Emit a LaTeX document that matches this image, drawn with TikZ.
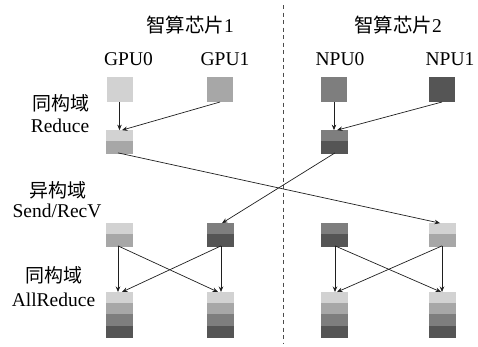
\documentclass[tikz,border=0pt]{standalone}
\usepackage{fontspec}
\setmainfont{Liberation Serif}
\newfontfamily\cjk{Noto Sans CJK SC}
\usetikzlibrary{arrows.meta,calc}
% four grey levels, one per device
\definecolor{shadeA}{HTML}{D2D2D2}
\definecolor{shadeB}{HTML}{A7A7A7}
\definecolor{shadeC}{HTML}{7E7E7E}
\definecolor{shadeD}{HTML}{555555}
\begin{document}
\begin{tikzpicture}[x=1pt,y=-1pt,
  sq/.style={minimum width=26pt,minimum height=25pt,inner sep=0pt,outer sep=0pt},
  cell/.style={minimum width=26pt,minimum height=11.25pt,inner sep=0pt,outer sep=0pt},
  lat/.style={font=\fontsize{19.5}{21}\selectfont,inner sep=0pt,anchor=base},
  zh/.style={font=\fontsize{19}{21}\selectfont\cjk,inner sep=0pt,anchor=base},
  link/.style={draw=black!88,line width=0.7pt,-{Stealth[length=5.5pt,width=4.5pt]}},
  sepline/.style={draw=black!70,line width=1pt,dash pattern=on 4pt off 3.5pt}]
\useasboundingbox (0,0) rectangle (478,346);

% chip separator
\coordinate (sepTop) at (283.5,5);
\coordinate (sepBot) at (283.5,343);
\draw[sepline] (sepTop) -- (sepBot);

% chip titles and device names
\node[lat] (chip1) at (190,32) {{\cjk 智算芯片}1};
\node[lat] (chip2) at (398,32) {{\cjk 智算芯片}2};
\node[lat] (lg0) at (128.5,65) {GPU0};
\node[lat] (lg1) at (225,65) {GPU1};
\node[lat] (ln0) at (340,65) {NPU0};
\node[lat] (ln1) at (450,65) {NPU1};

% stage labels
\node[zh]  (st1a) at (61,110) {同构域};
\node[lat] (st1b) at (60,132) {Reduce};
\node[zh]  (st2a) at (57.5,197) {异构域};
\node[lat] (st2b) at (57,217) {Send/RecV};
\node[zh]  (st3a) at (53.5,282) {同构域};
\node[lat] (st3b) at (53.5,306.5) {AllReduce};

% initial data on each device
\node[sq,fill=shadeA] (g0) at (119.5,89.5) {};
\node[sq,fill=shadeB] (g1) at (220,89.5) {};
\node[sq,fill=shadeC] (n0) at (334,89.5) {};
\node[sq,fill=shadeD] (n1) at (442,89.5) {};

% stacked blocks: fill and edge in the same grey so neighbours join cleanly
\tikzset{blk/.style={cell,fill=#1,draw=#1,line width=0.4pt}}

% after intra-chip reduce
\node[blk=shadeA] (rg1) at (119.5,135.75) {};
\node[blk=shadeB] (rg2) at (119.5,147.25) {};
\node[blk=shadeC] (rn1) at (334,135.75) {};
\node[blk=shadeD] (rn2) at (334,147.25) {};

% after cross-chip send/recv
\node[blk=shadeA] (sA1) at (119.5,228.75) {};
\node[blk=shadeB] (sA2) at (119.5,240.25) {};
\node[blk=shadeC] (sB1) at (220,228.75) {};
\node[blk=shadeD] (sB2) at (220,240.25) {};
\node[blk=shadeC] (sC1) at (334,228.75) {};
\node[blk=shadeD] (sC2) at (334,240.25) {};
\node[blk=shadeA] (sD1) at (442,228.75) {};
\node[blk=shadeB] (sD2) at (442,240.25) {};

% after intra-chip allreduce
\foreach \c/\x in {A/119.5,B/220,C/334,D/442}{
  \foreach \k/\y/\col in {1/297.625/shadeA,2/308.875/shadeB,3/320.125/shadeC,4/331.375/shadeD}{
    \node[blk=\col] (a\c\k) at (\x,\y) {};
  }
}

% reduce
\draw[link] (g0.south) -- (rg1.north);
\draw[link] (g1.south) -- ($(rg1.north)+(2.5,0)$);
\draw[link] (n0.south) -- (rn1.north);
\draw[link] (n1.south) -- ($(rn1.north)+(3,0)$);

% send/recv
\draw[link] ($(rg2.south)+(-1.5,0)$) -- ($(sD1.north)+(-2,0)$);
\draw[link] ($(rn2.south)+(1,0)$) -- ($(sB1.north)+(2,0)$);

% allreduce, chip 1
\draw[link] ($(sA2.south)+(-1.5,0)$) -- ($(aA1.north)+(-1.5,0)$);
\draw[link] ($(sA2.south)+(-1.5,0)$) -- ($(aB1.north)+(-2,0)$);
\draw[link] ($(sB2.south)+(1,0)$) -- ($(aB1.north)+(1,0)$);
\draw[link] ($(sB2.south)+(1,0)$) -- ($(aA1.north)+(2.5,0)$);

% allreduce, chip 2
\draw[link] ($(sC2.south)+(1,0)$) -- ($(aC1.north)+(1,0)$);
\draw[link] ($(sC2.south)+(1,0)$) -- ($(aD1.north)+(-1,0)$);
\draw[link] (sD2.south) -- (aD1.north);
\draw[link] (sD2.south) -- ($(aC1.north)+(3,0)$);
\end{tikzpicture}
\end{document}
